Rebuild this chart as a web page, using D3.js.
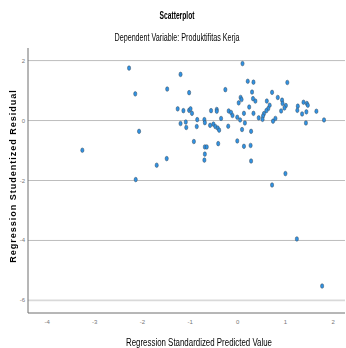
<!DOCTYPE html>
<html>
<head>
<meta charset="utf-8">
<script src="https://cdn.jsdelivr.net/npm/d3@7"></script>
<style>
  body { margin: 0; background: #fff; }
  text { font-family: "Liberation Sans", Arial, sans-serif; }
</style>
</head>
<body>
<div id="chart"></div>
<script>
// predicted values (x) and studentized residuals (y)
var predicted = [
  -2.28, -2.15, -1.48, -1.26, -1.20, -1.20, -2.07, -3.26, -1.49, -1.70, -2.14,
  0.10, 0.21, 0.33, 1.04, -1.02, -0.26, 0.30, 0.72, 0.06, 0.08, 0.32, 0.37, 0.02,
  0.61, 0.84, 0.93, 0.94, 0.67, 1.01, 0.98, 0.24, 1.26, 1.38, 1.45, 1.47, 1.25,
  1.44, 1.35, 1.65, 1.81, 1.43, 0.91, 0.64, 0.60, 0.55, 0.53, 0.44, 0.52, 0.74,
  0.79, 0.13, 0.33, -0.19, -0.14, -0.11, -0.01, 0.05, 0.15, 0.09, 0.28, -0.20,
  -0.01, 0.13, 0.27, 0.28, 1.00, 0.72, -1.14, -1.02, -0.99, -0.96, -1.09, -1.08,
  -0.85, -0.86, -0.70, -0.69, -0.56, -0.44, -0.44, -0.35, -0.58, -0.51, -0.47,
  -0.42, -0.39, -0.92, -0.69, -0.65, -0.69, -0.70, -0.41, 1.24, 1.77
];
var residual = [
  1.75, 0.89, 1.05, 0.39, 1.54, -0.10, -0.36, -0.99, -1.27, -1.49, -1.97,
  1.90, 1.31, 1.28, 1.27, 0.93, 1.03, 0.95, 0.94, 0.77, 0.70, 0.73, 0.65, 0.59,
  0.65, 0.77, 0.68, 0.57, 0.51, 0.50, 0.42, 0.45, 0.48, 0.61, 0.57, 0.51, 0.34,
  0.29, 0.22, 0.31, 0.02, -0.08, 0.32, 0.40, 0.33, 0.23, 0.15, 0.09, 0.04, -0.02,
  0.07, 0.24, 0.24, 0.32, 0.27, 0.17, 0.11, 0.02, -0.08, -0.30, -0.36, -0.19,
  -0.68, -0.86, -0.83, -1.35, -1.77, -2.15, 0.33, 0.34, 0.39, 0.24, -0.05, -0.23,
  0.03, -0.20, 0.03, -0.07, 0.33, 0.37, 0.31, 0.07, -0.16, -0.12, -0.20,
  -0.25, -0.32, -0.70, -0.88, -0.88, -1.12, -1.32, -0.77, -3.95, -5.52
];
var xTicks = [-4, -3, -2, -1, 0, 1, 2];
var yTicks = [2, 0, -2, -4, -6];

var width = 346, height = 348;
var points = predicted.map(function (d, i) {
    return { x: d, y: residual[i] };
});

var svg = d3.select('#chart').append('svg')
    .attr('width', width)
    .attr('height', height);

var x = d3.scaleLinear().domain([-4.4, 2.25]).range([28, 345]);
var y = d3.scaleLinear().domain([2.42, -6.42]).range([48, 313]);

//gridlines at the y ticks
svg.append('g')
    .selectAll('line')
    .data(yTicks)
    .enter()
    .append('line')
    .attr('x1', x.range()[0])
    .attr('x2', x.range()[1])
    .attr('y1', function (d) { return y(d); })
    .attr('y2', function (d) { return y(d); })
    .attr('stroke', function (d) { return d == -6 ? '#d9d9d9' : '#bdbdbd'; })
    .attr('stroke-width', function (d) { return d == -6 ? 1.6 : 1; });

//axis lines
svg.append('line')
    .attr('x1', x.range()[0]).attr('x2', x.range()[0])
    .attr('y1', y.range()[0]).attr('y2', y.range()[1])
    .attr('stroke', '#6e6e6e').attr('stroke-width', 1);
svg.append('line')
    .attr('x1', x.range()[0]).attr('x2', x.range()[1])
    .attr('y1', y.range()[1]).attr('y2', y.range()[1])
    .attr('stroke', '#6e6e6e').attr('stroke-width', 1);

//tick labels
svg.append('g')
    .selectAll('text')
    .data(xTicks)
    .enter()
    .append('text')
    .attr('x', function (d) { return x(d); })
    .attr('y', 324)
    .attr('text-anchor', 'middle')
    .attr('font-size', 6)
    .attr('fill', '#777')
    .text(function (d) { return d; });

svg.append('g')
    .selectAll('text')
    .data(yTicks)
    .enter()
    .append('text')
    .attr('x', 25)
    .attr('y', function (d) { return y(d) + 2; })
    .attr('text-anchor', 'end')
    .attr('font-size', 6)
    .attr('fill', '#777')
    .text(function (d) { return d; });

//points
svg.append('g')
    .selectAll('ellipse')
    .data(points)
    .enter()
    .append('ellipse')
    .attr('cx', function (d) { return x(d.x); })
    .attr('cy', function (d) { return y(d.y); })
    .attr('rx', 1.6)
    .attr('ry', 2.3)
    .attr('fill', '#2f92e4')
    .attr('stroke', '#3d4c5a')
    .attr('stroke-width', 0.5);

//titles, squeezed to the widths of the original narrow font
//(group opacity keeps the text antialiasing grey instead of coloured)
var titles = svg.append('g').attr('opacity', 0.999).attr('fill', '#000');

titles.append('text')
    .attr('x', 177).attr('y', 19)
    .attr('text-anchor', 'middle')
    .attr('font-size', 10)
    .attr('font-weight', 'bold')
    .attr('textLength', 35)
    .attr('lengthAdjust', 'spacingAndGlyphs')
    .text('Scatterplot');

titles.append('text')
    .attr('x', 177).attr('y', 41)
    .attr('text-anchor', 'middle')
    .attr('font-size', 10)
    .attr('textLength', 125)
    .attr('lengthAdjust', 'spacingAndGlyphs')
    .text('Dependent Variable: Produktifitas Kerja');

titles.append('text')
    .attr('x', 199).attr('y', 346)
    .attr('text-anchor', 'middle')
    .attr('font-size', 10)
    .attr('textLength', 146)
    .attr('lengthAdjust', 'spacingAndGlyphs')
    .text('Regression Standardized Predicted Value');

titles.append('text')
    .attr('transform', 'translate(16,176) rotate(-90)')
    .attr('text-anchor', 'middle')
    .attr('font-size', 9)
    .attr('font-weight', 'bold')
    .attr('letter-spacing', 1)
    .text('Regression Studentized Residual');
</script>
</body>
</html>
